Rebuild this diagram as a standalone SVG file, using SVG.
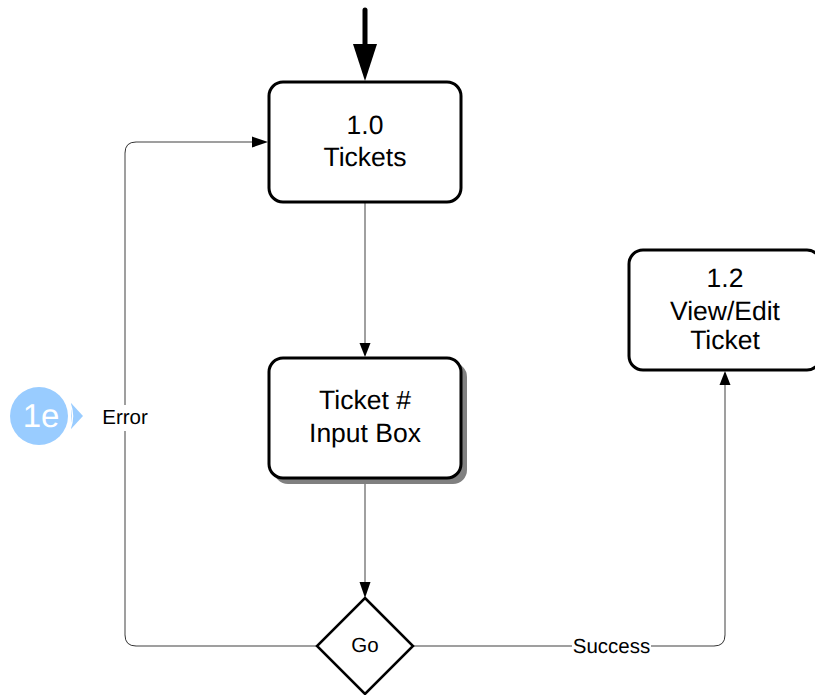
<svg xmlns="http://www.w3.org/2000/svg" width="815" height="695" viewBox="0 0 815 695">
<style>
text{font-family:"Liberation Sans",Arial,sans-serif;fill:#000;text-anchor:middle;text-rendering:geometricPrecision}
.t{font-size:26.500px}
.s{font-size:20.500px}
.n{fill:#fff;stroke:#000;stroke-width:3}
.c{fill:none;stroke:#808080;stroke-width:1.500}
.k{fill:none;stroke:#333;stroke-width:1}
.a{fill:#000;stroke:none}
</style>
<rect width="815" height="695" fill="#fff"/>
<g id="connectors">
<path class="c" d="M365 203V345"/>
<polygon class="a" points="365,357 359.500,343 370.500,343"/>
<path class="c" d="M365 479V586"/>
<polygon class="a" points="365,598 359.500,582 370.500,582"/>
<path class="c" d="M317 646H136M125 635V153M136 142H255"/>
<path class="k" d="M136 646Q125 646 125 635M125 153Q125 142 136 142"/>
<polygon class="a" points="268,142 252,136.500 252,147.500"/>
<path class="c" d="M413 646H714M725 635V382"/>
<path class="k" d="M714 646Q725 646 725 635"/>
<polygon class="a" points="725,371 719.500,385 730.500,385"/>
<path d="M365 10V46" fill="none" stroke="#000" stroke-width="5" stroke-linecap="round"/>
<polygon class="a" points="365,81 353,44 377,44"/>
</g>
<g id="node-tickets">
<rect class="n" x="269" y="82" width="192" height="120" rx="14"/>
<text class="t" x="365" y="134">1.0</text>
<text class="t" x="365" y="166">Tickets</text>
</g>
<g id="node-input">
<rect x="274" y="363" width="193" height="121" rx="14" fill="#808080"/>
<rect class="n" x="269" y="358" width="192" height="120" rx="14"/>
<text class="t" x="365" y="409">Ticket #</text>
<text class="t" x="365" y="442">Input Box</text>
</g>
<g id="node-view">
<rect class="n" x="629" y="250" width="192" height="120" rx="14"/>
<text class="t" x="725" y="287">1.2</text>
<text class="t" x="725" y="320">View/Edit</text>
<text class="t" x="725" y="349">Ticket</text>
</g>
<g id="node-go">
<polygon points="365,598 413,646 365,694 317,646" fill="#fff" stroke="#000" stroke-width="2.500"/>
<text class="s" x="365" y="652">Go</text>
</g>
<g id="label-error">
<rect x="101" y="405" width="48" height="26" fill="#fff"/>
<text class="s" x="125" y="424">Error</text>
</g>
<g id="label-success">
<rect x="572" y="634" width="79" height="24" fill="#fff"/>
<text class="s" x="611.500" y="652.500">Success</text>
</g>
<g id="badge-1e">
<polygon points="71,403 83,416 71,429" fill="#99ccff"/>
<circle cx="39" cy="416" r="29" fill="#99ccff"/>
<path d="M70 403Q75 416 70 429" fill="none" stroke="#fff" stroke-width="1.500"/>
<text x="41" y="427" style="font-size:33px;fill:#fff">1e</text>
</g>
</svg>
